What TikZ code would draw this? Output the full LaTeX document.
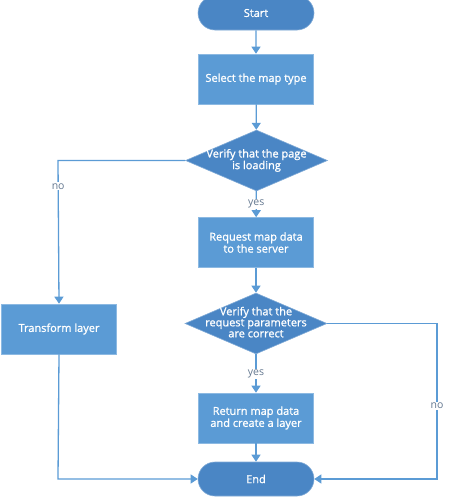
\documentclass[tikz,border=0pt]{standalone}
\usepackage{fontspec}
\setmainfont{Open Sans}
\newfontfamily\semib{Open Sans}[FakeBold=1.2]
\usetikzlibrary{shapes.geometric,shapes.misc,arrows.meta}
\definecolor{boxblue}{HTML}{5B9BD5}
\definecolor{darkblue}{HTML}{4A86C5}
\definecolor{lineblue}{HTML}{5B9BD5}
\definecolor{lblgray}{HTML}{647890}
\newcommand{\dtext}[1]{\smash{\makebox[0pt]{\raisebox{-3pt}{\renewcommand{\arraystretch}{0.92}\begin{tabular}{@{}c@{}}#1\end{tabular}}}}}
\tikzset{
  boxfont/.style={font=\semib\fontsize{11}{12}\selectfont},
  procbox/.style={rectangle,fill=boxblue,draw=boxblue!70!white,line width=0.6pt,minimum width=115pt,minimum height=50pt,inner sep=0pt,text=white,boxfont,align=center},
  termbox/.style={rounded rectangle,fill=darkblue,draw=darkblue!70!white,line width=0.6pt,minimum width=116pt,minimum height=34pt,inner sep=0pt,text=white,boxfont},
  decbox/.style={diamond,fill=darkblue,draw=darkblue!70!white,line width=0.6pt,minimum width=142pt,minimum height=61pt,inner sep=0pt,text=white,boxfont},
  conn/.style={draw=lineblue,line width=1.3pt,-{Triangle[width=9pt,length=7pt]}},
  lbl/.style={fill=white,inner sep=1pt,text=lblgray,font=\fontsize{10.5}{11}\selectfont},
}
\begin{document}
\begin{tikzpicture}[x=1pt,y=-1pt]
\useasboundingbox (0,0) rectangle (448,498);
\node[termbox] (start) at (256,13) {Start};
\node[procbox] (select) at (256,79) {Select the map type};
\node[decbox] (d1) at (256.5,160.5) {\dtext{Verify that the page\\is loading}};
\node[procbox] (request) at (256,242.5) {Request map data\\to the server};
\node[decbox] (d2) at (256,323.5) {\dtext{Verify that the\\request parameters\\are correct}};
\node[procbox] (transform) at (59,329) {Transform layer};
\node[procbox] (ret) at (256,418) {Return map data\\and create a layer};
\node[termbox] (end) at (256,479) {End};
\coordinate (c1) at (58,160.5);
\coordinate (c2) at (437,323.5);
\coordinate (c3) at (437,479);
\coordinate (c4) at (58,479);
\draw[conn] (start) -- (select);
\draw[conn] (select) -- (d1);
\draw[conn] (d1) -- node[lbl,pos=0.5]{yes} (request);
\draw[conn] (request) -- (d2);
\draw[conn] (d2) -- node[lbl,pos=0.52]{yes} (ret);
\draw[conn] (ret) -- (end);
\draw[conn] (d1.west) -- (c1) -- node[lbl,pos=0.18]{no} (transform.north);
\draw[conn] (d2.east) -- (c2) -- node[lbl,pos=0.53]{no} (c3) -- (end.east);
\draw[conn] (transform.south) -- (c4) -- (end.west);
\end{tikzpicture}
\end{document}
